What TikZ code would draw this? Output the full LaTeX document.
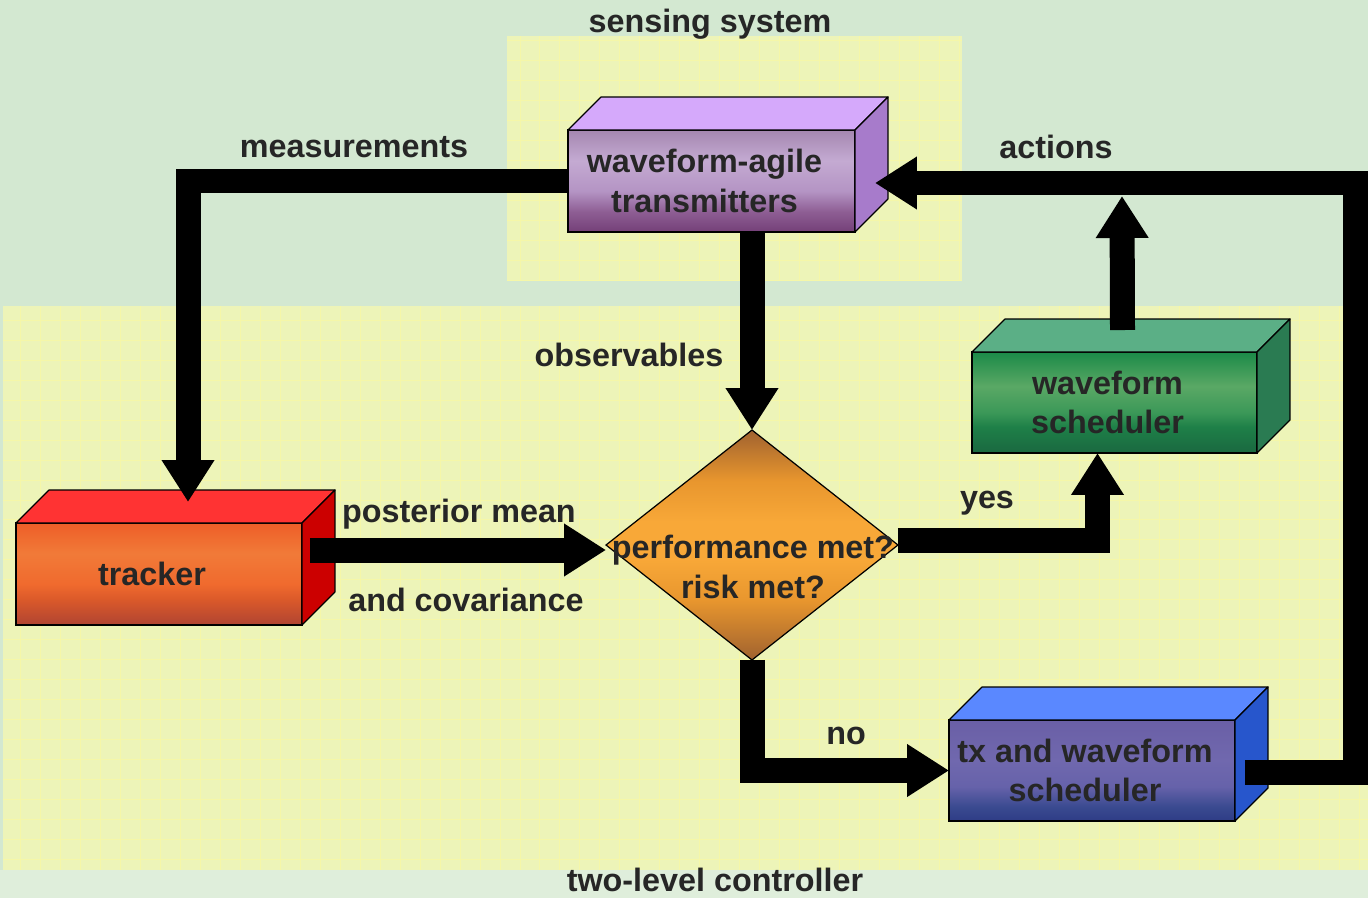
\documentclass[tikz,border=0pt]{standalone}
\usepackage{fontspec}
\setmainfont{Liberation Sans}
\usetikzlibrary{arrows.meta,calc,shapes.geometric}
\definecolor{bggreen}{HTML}{D3E8D1}
\definecolor{bgbottom}{HTML}{DFEEDB}
\definecolor{yel}{HTML}{EDF4B8}
\definecolor{gridc}{HTML}{F5F7A8}
\definecolor{txt}{HTML}{262626}
% transmitters
\definecolor{trTop}{HTML}{D5A9FB}
\definecolor{trSide}{HTML}{A77BCB}
\definecolor{trA}{HTML}{A587B0}
\definecolor{trB}{HTML}{C4AAD2}
\definecolor{trC}{HTML}{B494C4}
\definecolor{trD}{HTML}{8E5E94}
\definecolor{trE}{HTML}{744078}
% tracker
\definecolor{tkTop}{HTML}{FF3333}
\definecolor{tkSide}{HTML}{CC0000}
\definecolor{tkA}{HTML}{EE5E28}
\definecolor{tkB}{HTML}{F17A38}
\definecolor{tkC}{HTML}{F06A2E}
\definecolor{tkD}{HTML}{DC5A2A}
\definecolor{tkE}{HTML}{B04432}
% green
\definecolor{gnTop}{HTML}{5BAF86}
\definecolor{gnSide}{HTML}{2A7B52}
\definecolor{gnA}{HTML}{1B8A48}
\definecolor{gnB}{HTML}{5AA865}
\definecolor{gnC}{HTML}{3B9858}
\definecolor{gnD}{HTML}{1E8048}
\definecolor{gnE}{HTML}{1A6840}
% blue
\definecolor{blTop}{HTML}{5A88FF}
\definecolor{blSide}{HTML}{2756CC}
\definecolor{blA}{HTML}{6A5FA6}
\definecolor{blB}{HTML}{7068AE}
\definecolor{blC}{HTML}{6662AA}
\definecolor{blD}{HTML}{3A4A90}
\definecolor{blE}{HTML}{2E3C86}
% diamond
\definecolor{dmA}{HTML}{A0622F}
\definecolor{dmB}{HTML}{E8962E}
\definecolor{dmC}{HTML}{F8A838}
\pgfdeclareverticalshading{trfront}{100bp}{color(0bp)=(trE); color(25bp)=(trE); color(35bp)=(trD); color(45bp)=(trC); color(60bp)=(trB); color(75bp)=(trA); color(100bp)=(trA)}
\pgfdeclareverticalshading{tkfront}{100bp}{color(0bp)=(tkE); color(25bp)=(tkE); color(38bp)=(tkD); color(45bp)=(tkC); color(60bp)=(tkB); color(75bp)=(tkA); color(100bp)=(tkA)}
\pgfdeclareverticalshading{gnfront}{100bp}{color(0bp)=(gnE); color(25bp)=(gnE); color(38bp)=(gnD); color(45bp)=(gnC); color(58bp)=(gnB); color(75bp)=(gnA); color(100bp)=(gnA)}
\pgfdeclareverticalshading{blfront}{100bp}{color(0bp)=(blE); color(25bp)=(blE); color(32bp)=(blD); color(42bp)=(blC); color(55bp)=(blB); color(75bp)=(blA); color(100bp)=(blA)}
\pgfdeclareverticalshading{dmshade}{100bp}{color(0bp)=(dmA); color(25bp)=(dmA); color(38bp)=(dmB); color(47bp)=(dmC); color(55bp)=(dmC); color(64bp)=(dmB); color(75bp)=(dmA); color(100bp)=(dmA)}
\newcommand{\cubefaces}[3]{%
  \filldraw[face, fill=#2] (#1.north west) -- ++(33,-33) -- ($(#1.north east)+(33,-33)$) -- (#1.north east) -- cycle;
  \filldraw[face, fill=#3] (#1.north east) -- ++(33,-33) -- ($(#1.south east)+(33,-33)$) -- (#1.south east) -- cycle;
}
\newcommand{\lft}[1]{#1\hspace*{0.28cm}}
\begin{document}
\begin{tikzpicture}[x=0.02cm,y=-0.02cm,
  lbl/.style={font=\bfseries\fontsize{18.4}{22.5}\selectfont, text=txt, inner sep=0pt, align=center},
  cube/.style={rectangle, draw=black, line width=0.7pt, outer sep=0pt, inner sep=0pt,
    minimum width=5.72cm, minimum height=2.04cm, align=center, shade,
    font=\bfseries\fontsize{18.4}{22.5}\selectfont, text=txt},
  face/.style={draw=black, line width=0.7pt, line join=round},
  conn/.style={draw=black, line width=0.5cm, line join=miter,
    -{Triangle[length=0.84cm 0, width=1cm 0]}},
  gridline/.style={draw=gridc, line width=0.45pt, step=0.4cm}
]
\useasboundingbox (0,0) rectangle (1368,898);
% backgrounds
\fill[bggreen] (0,0) rectangle (1368,898);
\fill[bgbottom] (0,870) rectangle (1368,898);
\fill[yel] (3,306) rectangle (1368,870);
\draw[gridline] (3,306) grid (1368,870);
\fill[yel] (507,36) rectangle (962,281);
\draw[gridline] (507,36) grid (962,281);
\node[lbl] (lsense) at (710,24) {sensing system};
\node[lbl] (lctrl) at (715,880) {two-level controller};
% boxes
\node[cube, minimum width=5.74cm, shading=trfront] (trans) at (711.5,181) {\lft{waveform-agile}\\\lft{transmitters}};
\cubefaces{trans}{trTop}{trSide}
\node[cube, shading=tkfront] (tracker) at (159,574) {\lft{tracker}};
\cubefaces{tracker}{tkTop}{tkSide}
\node[cube, minimum width=5.70cm, minimum height=2.02cm, shading=gnfront] (green) at (1114.5,402.5) {\lft{waveform}\\\lft{scheduler}};
\cubefaces{green}{gnTop}{gnSide}
\node[cube, minimum height=2.02cm, shading=blfront] (blue) at (1092,770.5) {\lft{tx and waveform}\\\lft{scheduler}};
\cubefaces{blue}{blTop}{blSide}
\node[diamond, draw=black, line width=0.7pt, inner sep=0pt, outer sep=0pt,
  minimum width=5.84cm, minimum height=4.6cm, shade, shading=dmshade] (dia) at (752,545) {};
\node[lbl] (diatext) at (753,567) {performance met?\\risk met?};
% labels
\node[lbl] (lmeas) at (354,147) {measurements};
\node[lbl] (lact) at (1056,147) {actions};
\node[lbl] (lobs) at (629,355) {observables};
\node[lbl] (lpost) at (459,514) {posterior mean};
\node[lbl] (lcov) at (466,600) {and covariance};
\node[lbl] (lyes) at (987,503) {yes};
\node[lbl] (lno) at (846,736) {no};
% connectors
\draw[conn] (trans.west) -| ($(tracker.north west)+(172,-21)$);
\coordinate (pstart) at ($(tracker.east)+(8,-24)$);
\draw[conn] (pstart) -- (pstart -| dia.west);
\draw[conn] (dia.north |- trans.south) -- (dia.north);
\draw[conn] ($(dia.east)+(0,-5)$) -| ($(green.south)+(-17,0)$);
\coordinate (acttip) at (1122,196);
\draw[conn] ($(green.north)+(8,-22)$) -- (acttip);
\coordinate (fbcorner) at (1355,183);
\draw[conn] ($(blue.east)+(10,1.5)$) -| (fbcorner) -- ($(trans.east)+(20,2)$);
\draw[conn] (dia.south) |- (blue.west);
\end{tikzpicture}
\end{document}
